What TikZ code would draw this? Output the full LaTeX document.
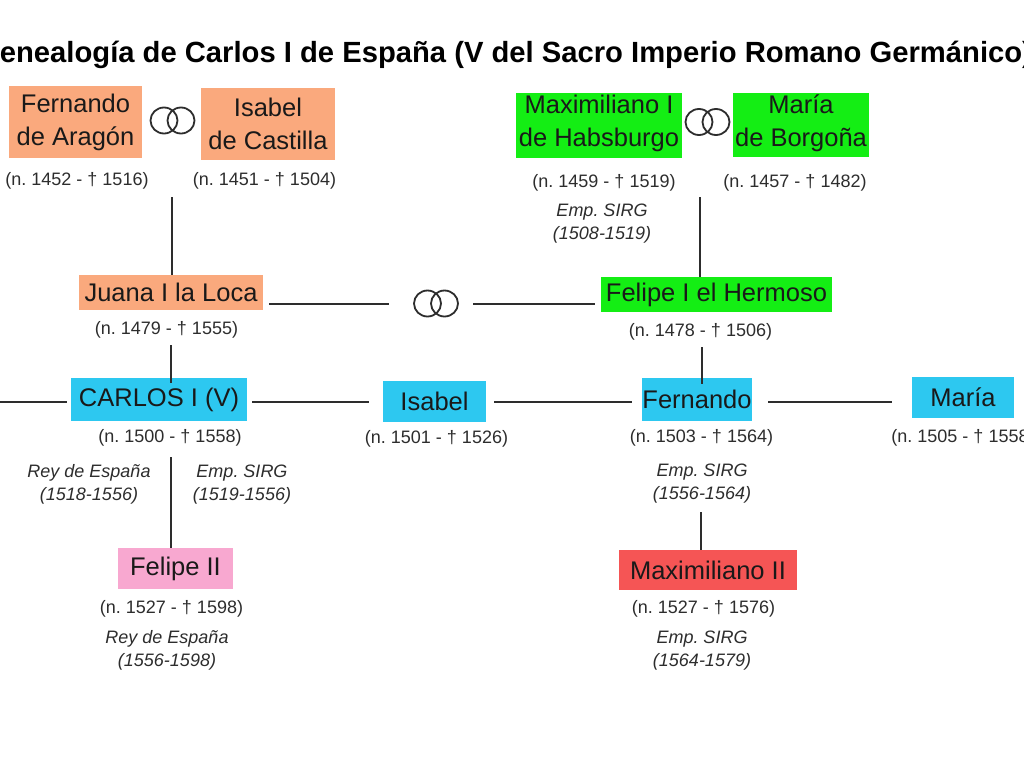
\documentclass[tikz,border=0pt]{standalone}
\usepackage{fontspec}
\setmainfont{Liberation Sans}
\usetikzlibrary{calc}
\definecolor{peach}{RGB}{250,169,125}
\definecolor{lgreen}{RGB}{20,238,20}
\definecolor{sky}{RGB}{45,200,240}
\definecolor{rosa}{RGB}{248,168,208}
\definecolor{rojo}{RGB}{245,85,85}
\definecolor{ink}{RGB}{25,25,25}
\definecolor{grayink}{RGB}{45,45,45}
\frenchspacing
\begin{document}
\begin{tikzpicture}[x=1pt,y=-1pt,
  person/.style={fill=#1, inner sep=0pt, text=ink, font=\fontsize{25.5}{33}\selectfont, align=center},
  datelbl/.style={font=\fontsize{18}{23}\selectfont, text=grayink, inner sep=0pt, anchor=base},
  reign/.style={font=\fontsize{18}{23}\selectfont\itshape, text=grayink, inner sep=0pt, anchor=base, align=center},
  link/.style={line width=2pt, draw=grayink},
  ring/.style={line width=1.8pt, draw=grayink}]
\fill[white] (0,0) rectangle (1024,768);
\useasboundingbox (0,0) rectangle (1024,768);

% title
\node[anchor=base west, inner sep=0pt, font=\fontsize{29.2}{34}\selectfont\bfseries, text=black] (title) at (-23,63)
  {Genealogía de Carlos I de España (V del Sacro Imperio Romano Germánico)};

% generation 1
\node[person=peach, minimum width=133pt, minimum height=72pt] (fer) at (75.5,122) {Fernando\\de Aragón};
\node[person=peach, minimum width=134pt, minimum height=72pt] (isa) at (268,124) {Isabel\\de Castilla};
\node[person=lgreen, minimum width=166pt, minimum height=65pt, text depth=9pt] (max) at (599,125.5) {Maximiliano I\\de Habsburgo};
\node[person=lgreen, minimum width=136pt, minimum height=64pt, text depth=9pt] (mar) at (801,125) {María\\de Borgoña};

\node[datelbl] (ferd) at (77,185) {(n. 1452 - † 1516)};
\node[datelbl] (isad) at (264.5,185) {(n. 1451 - † 1504)};
\node[datelbl] (maxd) at (604,187) {(n. 1459 - † 1519)};
\node[datelbl] (mard) at (795,187) {(n. 1457 - † 1482)};
\node[reign] (maxr) at (602,239) {Emp. SIRG\\(1508-1519)};

% rings
\coordinate (r1) at (172.5,120.5);
\coordinate (r2) at (436,303.5);
\coordinate (r3) at (707.5,122);
\foreach \r in {r1,r2,r3}{
  \draw[ring] ($(\r)+(-8.5,0)$) ellipse [x radius=13.5pt, y radius=13pt];
  \draw[ring] ($(\r)+(8.5,0)$) ellipse [x radius=13.5pt, y radius=13pt];
}

% generation 2
\node[person=peach, minimum width=184pt, minimum height=35pt] (jua) at (171,292.5) {Juana I la Loca};
\node[person=lgreen, minimum width=231pt, minimum height=35pt] (fel) at (716.5,294.5) {Felipe I el Hermoso};
\node[datelbl] (juad) at (166.5,334) {(n. 1479 - † 1555)};
\node[datelbl] (feld) at (700.5,336) {(n. 1478 - † 1506)};

% generation 3
\node[person=sky, minimum width=176pt, minimum height=43pt] (car) at (159,399.5) {CARLOS I (V)};
\node[person=sky, minimum width=103pt, minimum height=41pt] (isb) at (434.5,401.5) {Isabel};
\node[person=sky, minimum width=110pt, minimum height=43pt] (frd) at (697,399.5) {Fernando};
\node[person=sky, minimum width=102pt, minimum height=41pt] (mra) at (963,397.5) {María};

\node[datelbl] (card) at (170,442) {(n. 1500 - † 1558)};
\node[datelbl] (isbd) at (436.5,443) {(n. 1501 - † 1526)};
\node[datelbl] (frdd) at (701.5,442) {(n. 1503 - † 1564)};
\node[datelbl] (mrad) at (963,442) {(n. 1505 - † 1558)};

\node[reign] (carr1) at (89,500.5) {Rey de España\\(1518-1556)};
\node[reign] (carr2) at (242,500) {Emp. SIRG\\(1519-1556)};
\node[reign] (frdr) at (702,499) {Emp. SIRG\\(1556-1564)};

% generation 4
\node[person=rosa, minimum width=115pt, minimum height=41pt] (fe2) at (175.5,568.5) {Felipe II};
\node[person=rojo, minimum width=178pt, minimum height=40pt] (mx2) at (708,570) {Maximiliano II};
\node[datelbl] (fe2d) at (171.5,613) {(n. 1527 - † 1598)};
\node[datelbl] (mx2d) at (703.5,613) {(n. 1527 - † 1576)};
\node[reign] (fe2r) at (167,666.5) {Rey de España\\(1556-1598)};
\node[reign] (mx2r) at (702,666) {Emp. SIRG\\(1564-1579)};

% connectors
\coordinate (a1) at (172,197);
\draw[link] (a1) -- (a1 |- jua.north);
\coordinate (a2) at (700,197);
\draw[link] (a2) -- (a2 |- fel.north);
\draw[link, shorten <=6pt, shorten >=47pt] (jua.east |- r2) -- (r2);
\draw[link, shorten <=37pt, shorten >=6pt] (r2) -- (fel.west |- r2);
\coordinate (a3) at (171,345);
\coordinate (a3e) at (171,383);
\draw[link] (a3) -- (a3e);
\coordinate (a4) at (702,347);
\coordinate (a4e) at (702,384);
\draw[link] (a4) -- (a4e);
\coordinate (a5) at (171,457);
\draw[link] (a5) -- (a5 |- fe2.north);
\coordinate (a6) at (701,512);
\draw[link] (a6) -- (a6 |- mx2.north);

\coordinate (l0) at (0,402);
\draw[link, shorten >=4pt] (l0) -- (car.west |- l0);
\draw[link, shorten <=5pt, shorten >=14pt] (car.east |- l0) -- (isb.west |- l0);
\draw[link, shorten <=8pt, shorten >=10pt] (isb.east |- l0) -- (frd.west |- l0);
\draw[link, shorten <=16pt, shorten >=20pt] (frd.east |- l0) -- (mra.west |- l0);
\end{tikzpicture}
\end{document}
